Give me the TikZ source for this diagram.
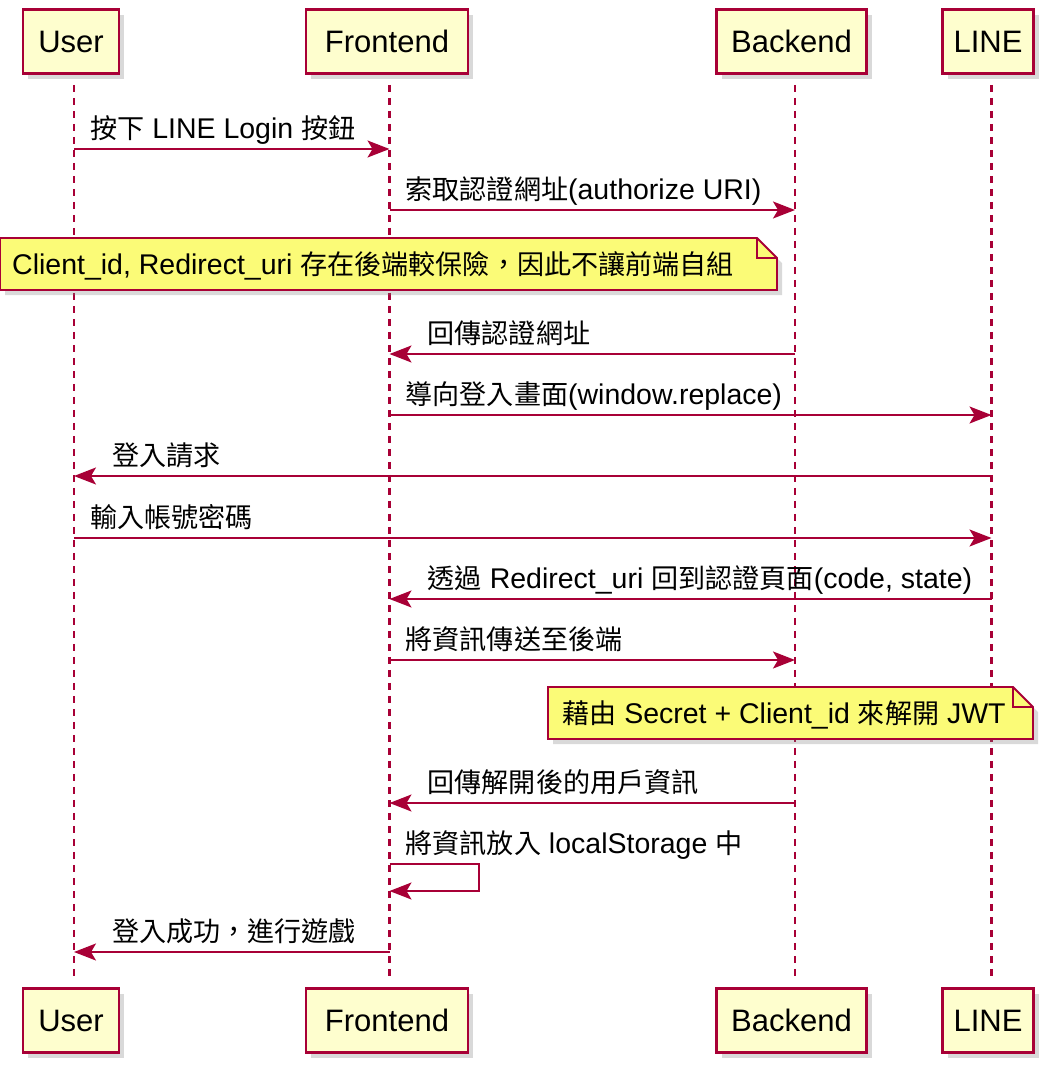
\documentclass[tikz,border=0pt]{standalone}
\usepackage{fontspec}
\setmainfont{Liberation Sans}
\newfontfamily\cjk[Scale=0.95]{Noto Sans CJK TC}
\usetikzlibrary{arrows.meta}
\usetikzlibrary{calc}
\usetikzlibrary{shadows}
\definecolor{umlred}{HTML}{A80036}
\definecolor{partfill}{HTML}{FEFECE}
\definecolor{notefill}{HTML}{FBFB77}

\begin{document}
\begin{tikzpicture}[x=1pt, y=-1pt,
 part/.style={draw=umlred, line width=2.6, fill=partfill, minimum height=64, inner sep=0, font=\fontsize{31}{37}\selectfont, drop shadow={opacity=.3, shadow xshift=5pt, shadow yshift=-5pt}},
 life/.style={umlred, line width=2.3, dash pattern=on 7pt off 6pt},
 msg/.style={umlred, line width=1.8, -{Stealth[length=22pt, width=17pt, inset=5pt]}},
 lbl/.style={anchor=base west, inner sep=0, font=\fontsize{28.5}{34}\selectfont},
 note/.style={draw=umlred, line width=1.9, fill=notefill, drop shadow={opacity=.3, shadow xshift=5pt, shadow yshift=-5pt}}]
\useasboundingbox (0,0) rectangle (1046,1072);
\foreach \n/\t/\cx/\w/\lx in {u/User/71/96/74, f/Frontend/387/162/389.5, b/Backend/791.5/150/795, l/LINE/988/91/991.5} {
 \coordinate (\n-L) at (\lx,0);
 \node[part, minimum width=\w] (\n-top) at (\cx,41.5) {\t};
 \node[part, minimum width=\w] (\n-bot) at (\cx,1020.5) {\t};
 \draw[life, shorten <=10pt, shorten >=8pt] (\n-top.south -| \n-L) -- (\n-bot.north -| \n-L);
}
\draw[msg] (u-L |- 0,149) -- (f-L |- 0,149);
\node[lbl] (m1) at ($(u-L |- 0,149)+(16,-11)$) {{\cjk 按下} LINE Login {\cjk 按鈕}};
\draw[msg] (f-L |- 0,210) -- (b-L |- 0,210);
\node[lbl] (m2) at ($(f-L |- 0,210)+(16,-11)$) {{\cjk 索取認證網址}(authorize URI)};
% note: backend keeps the client data
\draw[note] (0,238) -- (757,238) -- (777,258) -- (777,290) -- (0,290) -- cycle;
\draw[umlred, line width=1.9] (757,238) -- (757,258) -- (777,258);
\node[lbl] (n1) at (12,274) {Client\_id, Redirect\_uri {\cjk 存在後端較保險，因此不讓前端自組}};
\draw[msg] (b-L |- 0,354) -- (f-L |- 0,354);
\node[lbl] (m3) at ($(f-L |- 0,354)+(38,-11)$) {\cjk 回傳認證網址};
\draw[msg] (f-L |- 0,415) -- (l-L |- 0,415);
\node[lbl] (m4) at ($(f-L |- 0,415)+(16,-11)$) {{\cjk 導向登入畫面}(window.replace)};
\draw[msg] (l-L |- 0,476) -- (u-L |- 0,476);
\node[lbl] (m5) at ($(u-L |- 0,476)+(38,-11)$) {\cjk 登入請求};
\draw[msg] (u-L |- 0,538) -- (l-L |- 0,538);
\node[lbl] (m6) at ($(u-L |- 0,538)+(16,-11)$) {\cjk 輸入帳號密碼};
\draw[msg] (l-L |- 0,599) -- (f-L |- 0,599);
\node[lbl] (m7) at ($(f-L |- 0,599)+(38,-11)$) {{\cjk 透過} Redirect\_uri {\cjk 回到認證頁面}(code, state)};
\draw[msg] (f-L |- 0,660) -- (b-L |- 0,660);
\node[lbl] (m8) at ($(f-L |- 0,660)+(16,-11)$) {\cjk 將資訊傳送至後端};
% note: decoding the token
\draw[note] (548,687) -- (1013,687) -- (1033,707) -- (1033,739) -- (548,739) -- cycle;
\draw[umlred, line width=1.9] (1013,687) -- (1013,707) -- (1033,707);
\node[lbl] (n2) at (562,723) {{\cjk 藉由} Secret + Client\_id {\cjk 來解開} JWT};
\draw[msg] (b-L |- 0,803) -- (f-L |- 0,803);
\node[lbl] (m9) at ($(f-L |- 0,803)+(38,-11)$) {\cjk 回傳解開後的用戶資訊};
\coordinate (selfR) at (479,864);
\draw[msg] (f-L |- selfR) -- (selfR) -- ++(0,27) -- (f-L |- 0,891);
\node[lbl] (m10) at ($(f-L |- selfR)+(16,-11)$) {{\cjk 將資訊放入} localStorage {\cjk 中}};
\draw[msg] (f-L |- 0,952) -- (u-L |- 0,952);
\node[lbl] (m11) at ($(u-L |- 0,952)+(38,-11)$) {\cjk 登入成功，進行遊戲};
\end{tikzpicture}
\end{document}
